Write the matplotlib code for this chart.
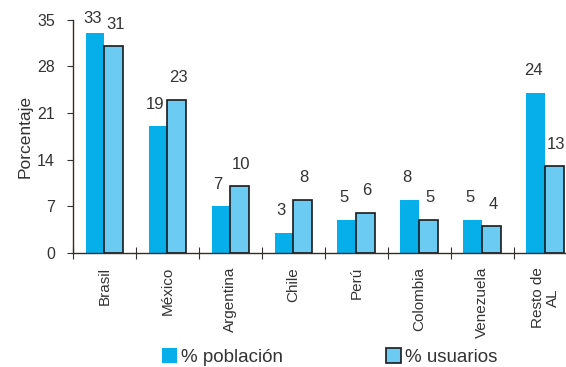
"""Población vs usuarios de internet en América Latina, por país (porcentaje)."""

import matplotlib
matplotlib.use("Agg")
import matplotlib.pyplot as plt
import numpy as np

# -----------------------------------------------------------------------------
# Data
# -----------------------------------------------------------------------------
paises = ["Brasil", "México", "Argentina", "Chile", "Perú", "Colombia",
          "Venezuela", "Resto de\nAL"]
poblacion = [33, 19, 7, 3, 5, 8, 5, 24]
usuarios = [31, 23, 10, 8, 6, 5, 4, 13]
y_ticks = [0, 7, 14, 21, 28, 35]

COLOR_POB = "#06AEEA"
COLOR_USU = "#6CCBF2"
TEXT = "#333333"

plt.rcParams["font.family"] = ["Liberation Sans", "DejaVu Sans"]

fig = plt.figure(figsize=(5.66, 3.67), dpi=100)
# axis extends past the right edge, as in the reference (cropped image)
ax = fig.add_axes([0.129, 0.311, 0.89, 0.635])

x = np.arange(len(paises))
w = 0.3
b1 = ax.bar(x - w / 2, poblacion, w, color=COLOR_POB, label="% población")
b2 = ax.bar(x + w / 2, usuarios, w, color=COLOR_USU, edgecolor="#1a1a1a",
            linewidth=1.2, label="% usuarios")

# value labels above bars, kept inside the plot near the top
for bars, vals, dx in ((b1, poblacion, -2), (b2, usuarios, 1)):
    for rect, v in zip(bars, vals):
        ax.annotate(str(v), (rect.get_x() + rect.get_width() / 2, min(v + 2.2, 34.1)),
                    xytext=(dx, 0), textcoords="offset points",
                    ha="center", va="bottom", fontsize=12, color=TEXT)

ax.set_xlim(-0.5, len(paises) - 0.5)
ax.set_ylim(0, 35)
ax.set_yticks(y_ticks)
ax.tick_params(axis="y", labelsize=11.5, colors=TEXT, direction="out", length=4, pad=9)
ax.set_xticks(np.arange(len(paises) + 1) - 0.5, minor=False)
ax.set_xticklabels([])
ax.set_xticks(x, minor=True)
ax.set_xticklabels(paises, minor=True, rotation=90, fontsize=11, color=TEXT,
                   va="top", ha="center", linespacing=1.1)
ax.tick_params(axis="x", which="major", direction="inout", length=8, colors="#333")
ax.tick_params(axis="x", which="minor", length=0, pad=10)
ax.set_ylabel("Porcentaje", fontsize=12.5, color=TEXT, labelpad=3)

for s in ("top", "right"):
    ax.spines[s].set_visible(False)
for s in ("left", "bottom"):
    ax.spines[s].set_color("#3a2a2a")
    ax.spines[s].set_linewidth(1.0)

fig.legend(handles=[b1, b2], loc="center", bbox_to_anchor=(0.583, 0.027),
           ncol=2, frameon=False, fontsize=13.5, columnspacing=5.5,
           handlelength=0.8, handleheight=0.8, handletextpad=0.2,
           labelcolor=TEXT, borderpad=0.1)

fig.savefig("out.png", dpi=100)
